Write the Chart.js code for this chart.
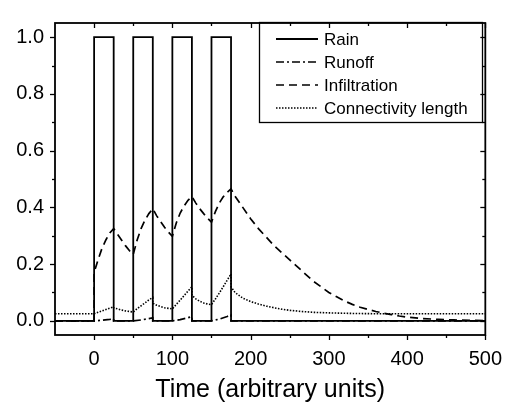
<!DOCTYPE html>
<html>
<head>
<meta charset="utf-8">
<script src="https://cdn.jsdelivr.net/npm/chart.js@4"></script>
<style>
  html, body { margin: 0; padding: 0; background: #fff; }
</style>
</head>
<body>
<canvas id="myChart" width="514" height="408"></canvas>
<script>
// Data

const rainTime = [-50, 0, 0, 25, 25, 50, 50, 75, 75, 100, 100, 125, 125, 150, 150, 175, 175, 500];
const rainValue = [0, 0, 1, 1, 0, 0, 1, 1, 0, 0, 1, 1, 0, 0, 1, 1, 0, 0];

const runoffTime = [-50, 0, 10, 20, 25, 25, 50, 60, 70, 75, 75, 100, 110, 120, 125, 125, 150, 160, 170, 175, 175, 500];
const runoffValue = [0, 0, 0.002, 0.005, 0.007, 0, 0, 0.003, 0.008, 0.011, 0, 0, 0.004, 0.011, 0.015, 0, 0, 0.006, 0.015, 0.021, 0, 0];

const infilTime = [-50, 0, 0, 5, 10, 15, 20, 25, 30, 35, 40, 45, 50, 55, 60, 65, 70, 75, 80, 85, 90, 95, 100,
  105, 110, 115, 120, 125, 130, 135, 140, 145, 150, 155, 160, 165, 170, 175, 180, 190, 200, 210, 220, 230, 240,
  250, 260, 270, 280, 290, 300, 310, 320, 330, 340, 350, 360, 370, 380, 390, 400, 420, 440, 460, 480, 500];
const infilValue = [0, 0, 0.17, 0.215, 0.255, 0.285, 0.31, 0.325, 0.305, 0.285, 0.265, 0.248, 0.234, 0.285, 0.325,
  0.355, 0.378, 0.395, 0.37, 0.35, 0.33, 0.313, 0.298, 0.345, 0.38, 0.405, 0.425, 0.438, 0.415, 0.395, 0.378,
  0.362, 0.348, 0.385, 0.415, 0.437, 0.453, 0.465, 0.44, 0.4, 0.36, 0.325, 0.295, 0.265, 0.24, 0.215, 0.19,
  0.165, 0.14, 0.12, 0.1, 0.085, 0.07, 0.058, 0.048, 0.04, 0.033, 0.027, 0.022, 0.017, 0.013, 0.008, 0.005,
  0.003, 0.002, 0.001];

const connTime = [-50, 0, 5, 10, 15, 20, 25, 25, 30, 35, 40, 45, 50, 55, 60, 65, 70, 75, 75, 80, 85, 90, 95, 100,
  105, 110, 115, 120, 125, 125, 130, 135, 140, 145, 150, 155, 160, 165, 170, 175, 175, 180, 190, 200, 210, 220,
  230, 240, 250, 265, 280, 300, 330, 360, 500];
const connValue = [0.025, 0.025, 0.03, 0.035, 0.04, 0.045, 0.049, 0.046, 0.042, 0.038, 0.035, 0.033, 0.031, 0.043,
  0.053, 0.063, 0.074, 0.082, 0.062, 0.055, 0.05, 0.046, 0.044, 0.042, 0.058, 0.073, 0.089, 0.105, 0.12, 0.09,
  0.077, 0.069, 0.063, 0.059, 0.057, 0.077, 0.098, 0.12, 0.143, 0.165, 0.12, 0.1, 0.08, 0.068, 0.059, 0.052,
  0.046, 0.041, 0.037, 0.033, 0.03, 0.028, 0.026, 0.025, 0.025];

const seriesNames = ["Rain", "Runoff", "Infiltration", "Connectivity length"];

// axis ticks
const xMajor = [0, 100, 200, 300, 400, 500];
const xMinor = [50, 150, 250, 350, 450];
const yMajor = [0, 0.2, 0.4, 0.6, 0.8, 1.0];
const yMinor = [0.1, 0.3, 0.5, 0.7, 0.9];

//

Chart.defaults.font.family = '"Liberation Sans", Arial, sans-serif';
Chart.defaults.color = "#000";

function toPoints(xs, ys) {
  return xs.map((x, i) => ({ x: x, y: ys[i] }));
}

// frame around the plot plus the tick marks on all four sides
const framePlugin = {
  id: "frame",
  afterDatasetsDraw(chart) {
    const c = chart.ctx;
    const a = chart.chartArea;
    const sx = chart.scales.x;
    const sy = chart.scales.y;
    c.save();
    c.strokeStyle = "#000";
    c.lineWidth = 1.8;
    c.strokeRect(a.left, a.top, a.right - a.left, a.bottom - a.top);
    c.lineWidth = 1.3;
    function seg(x1, y1, x2, y2) {
      c.beginPath();
      c.moveTo(x1, y1);
      c.lineTo(x2, y2);
      c.stroke();
    }
    function xTicks(list, len) {
      list.forEach((v) => {
        const px = Math.round(sx.getPixelForValue(v)) + 0.5;
        seg(px, a.bottom, px, a.bottom + len);
        seg(px, a.top, px, a.top + len);
      });
    }
    function yTicks(list, len) {
      list.forEach((v) => {
        const py = Math.round(sy.getPixelForValue(v)) + 0.5;
        seg(a.left - len, py, a.left, py);
        seg(a.right - len, py, a.right, py);
      });
    }
    xTicks(xMajor, 5);
    xTicks(xMinor, 3);
    yTicks(yMajor, 5);
    yTicks(yMinor, 3);
    c.restore();
  },
};

// legend box in the upper right
const legendPlugin = {
  id: "boxLegend",
  afterDraw(chart) {
    const c = chart.ctx;
    c.save();
    c.strokeStyle = "#000";
    c.lineWidth = 1.3;
    c.strokeRect(259.5, 22.5, 223, 100);
    c.font = '17px "Liberation Sans", Arial, sans-serif';
    c.textBaseline = "middle";
    c.fillStyle = "#000";
    chart.data.datasets.forEach((ds, i) => {
      const y = 39 + i * 23;
      c.lineWidth = ds.borderWidth;
      c.setLineDash(ds.borderDash || []);
      c.beginPath();
      c.moveTo(276, y);
      c.lineTo(318, y);
      c.stroke();
      c.setLineDash([]);
      c.fillText(ds.label, 324, y + 1);
    });
    c.restore();
  },
};

const ctx = document.getElementById("myChart").getContext("2d");
const myChart = new Chart(ctx, {
  type: "line",
  data: {
    datasets: [
      {
        label: seriesNames[0],
        data: toPoints(rainTime, rainValue),
        borderColor: "#000",
        borderWidth: 1.8,
        borderDash: [],
      },
      {
        label: seriesNames[1],
        data: toPoints(runoffTime, runoffValue),
        borderColor: "#000",
        borderWidth: 1.7,
        borderDash: [8, 3, 2, 3],
      },
      {
        label: seriesNames[2],
        data: toPoints(infilTime, infilValue),
        borderColor: "#000",
        borderWidth: 1.7,
        borderDash: [8, 5],
      },
      {
        label: seriesNames[3],
        data: toPoints(connTime, connValue),
        borderColor: "#000",
        borderWidth: 1.6,
        borderDash: [1.5, 1.5],
      },
    ],
  },
  options: {
    responsive: false,
    animation: false,
    devicePixelRatio: 1,
    layout: { padding: { top: 7, right: 18, left: 0, bottom: 0 } },
    elements: { point: { radius: 0 }, line: { tension: 0, fill: false } },
    plugins: { legend: { display: false }, tooltip: { enabled: false } },
    scales: {
      x: {
        type: "linear",
        min: -50,
        max: 500,
        grid: { display: false, drawTicks: false },
        border: { display: false },
        afterBuildTicks: (scale) => {
          scale.ticks = xMajor.map((v) => ({ value: v }));
        },
        afterFit: (scale) => {
          scale.height = 73;
        },
        ticks: {
          font: { size: 20 },
          padding: 12,
          maxRotation: 0,
          autoSkip: false,
          callback: (v) => String(v),
        },
        title: {
          display: true,
          text: "Time (arbitrary units)",
          font: { size: 25 },
          padding: { top: 0, bottom: 3 },
        },
      },
      y: {
        type: "linear",
        min: -0.05,
        max: 1.05,
        grid: { display: false, drawTicks: false },
        border: { display: false },
        afterBuildTicks: (scale) => {
          scale.ticks = yMajor.map((v) => ({ value: v }));
        },
        afterFit: (scale) => {
          scale.width = 55;
        },
        ticks: {
          font: { size: 20 },
          padding: 11,
          autoSkip: false,
          callback: (v) => v.toFixed(1),
        },
      },
    },
  },
  plugins: [framePlugin, legendPlugin],
});
</script>
</body>
</html>
